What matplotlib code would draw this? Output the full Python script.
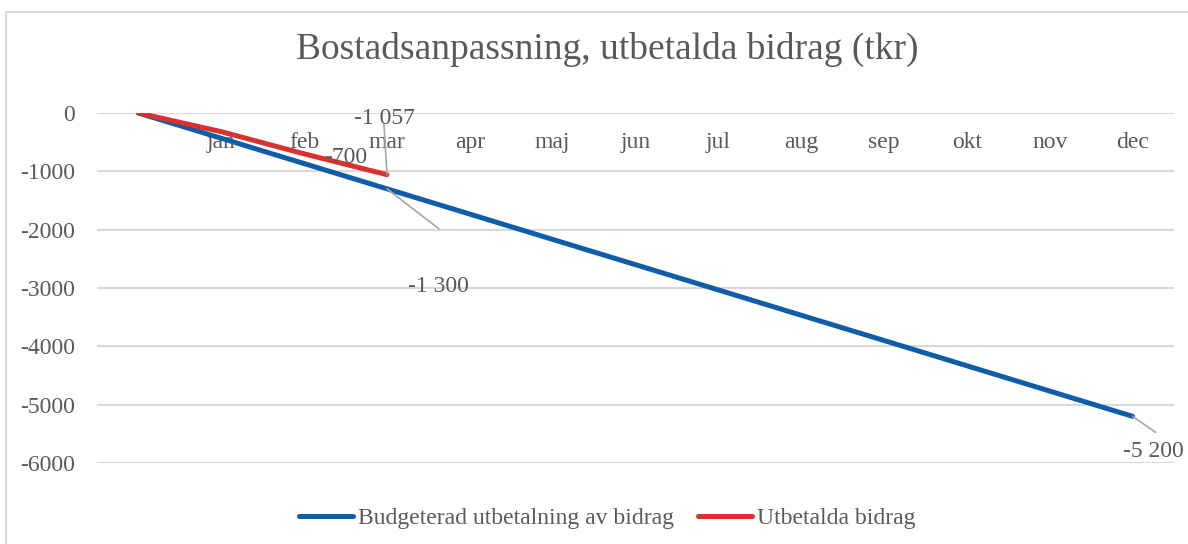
#!/usr/bin/env python3

import matplotlib.pyplot as plt
from matplotlib.patches import Rectangle

# data
months = ["", "jan", "feb", "mar", "apr", "maj", "jun", "jul", "aug", "sep", "okt", "nov", "dec"]
budget = [0, -433, -867, -1300, -1733, -2167, -2600, -3033, -3467, -3900, -4333, -4767, -5200]
paid = [0, -320, -700, -1057]
yticks = [0, -1000, -2000, -3000, -4000, -5000, -6000]

# (index, value, label, text offset px, leader end offset px or None)
budget_labels = [
    (3, -1300, "-1 300", (51, -98), (52, -40)),
    (12, -5200, "-5 200", (21, -35), (23, -16)),
]
paid_labels = [
    (2, -700, "-700", (42, -4), None),
    (3, -1057, "-1 057", (-3, 56), (-3, 50)),
]

TEXT = "#595959"
BLUE = "#0F5CA8"
RED = "#D8312F"
GRID = "#D9D9D9"
LEADER = "#A6A6A6"

plt.rcParams["font.family"] = ["Liberation Serif", "DejaVu Serif"]
plt.rcParams["font.size"] = 17

fig = plt.figure(figsize=(11.88, 5.44), dpi=100)
ax = fig.add_axes([97 / 1188, 1 - 463 / 544, (1174 - 97) / 1188, 350 / 544])

# chart border
fig.patches.append(
    Rectangle((6 / 1188, -0.1), 1.2, 1.1 - 12 / 544, transform=fig.transFigure,
              fill=False, edgecolor=GRID, linewidth=1.5)
)

x = list(range(len(months)))
ax.plot(x, budget, color=BLUE, linewidth=3.6, solid_capstyle="round",
        label="Budgeterad utbetalning av bidrag", zorder=3)
ax.plot(x[:len(paid)], paid, color=RED, linewidth=3.6, solid_capstyle="round",
        label="Utbetalda bidrag", zorder=4)

for labels in (budget_labels, paid_labels):
    for i, v, txt, toff, loff in labels:
        if loff is not None:
            ax.annotate("", xy=(i, v), xytext=loff, textcoords="offset pixels",
                        arrowprops=dict(arrowstyle="-", color=LEADER, lw=1.2,
                                        shrinkA=0, shrinkB=0), zorder=5)
        ax.annotate(txt, xy=(i, v), xytext=toff, textcoords="offset pixels",
                    ha="center", va="center", color=TEXT, fontsize=17, zorder=6)

ax.set_xlim(-0.5, len(months) - 0.5)
ax.set_ylim(-6000, 0)
ax.set_yticks(yticks)
ax.set_yticklabels([str(t) for t in yticks])
ax.set_xticks(x)
ax.set_xticklabels(months)
ax.spines["bottom"].set_position(("data", 0))
for s in ("top", "right", "left", "bottom"):
    ax.spines[s].set_visible(False)
ax.tick_params(axis="x", length=0, pad=14, colors=TEXT, labelsize=17)
ax.tick_params(axis="y", length=0, pad=16, colors=TEXT, labelsize=17)
ax.grid(axis="y", color=GRID, linewidth=1.5)
ax.set_axisbelow(True)

fig.text(607 / 1188, 1 - 49 / 544, "Bostadsanpassning, utbetalda bidrag (tkr)",
         ha="center", va="center", color=TEXT, fontsize=27)

fig.legend(loc="center", bbox_to_anchor=(607 / 1188, 1 - 518 / 544), ncol=2,
           frameon=False, handlelength=2.3, handletextpad=0.2, columnspacing=1.0,
           labelcolor=TEXT, fontsize=17)

fig.savefig("out.png", dpi=100)
